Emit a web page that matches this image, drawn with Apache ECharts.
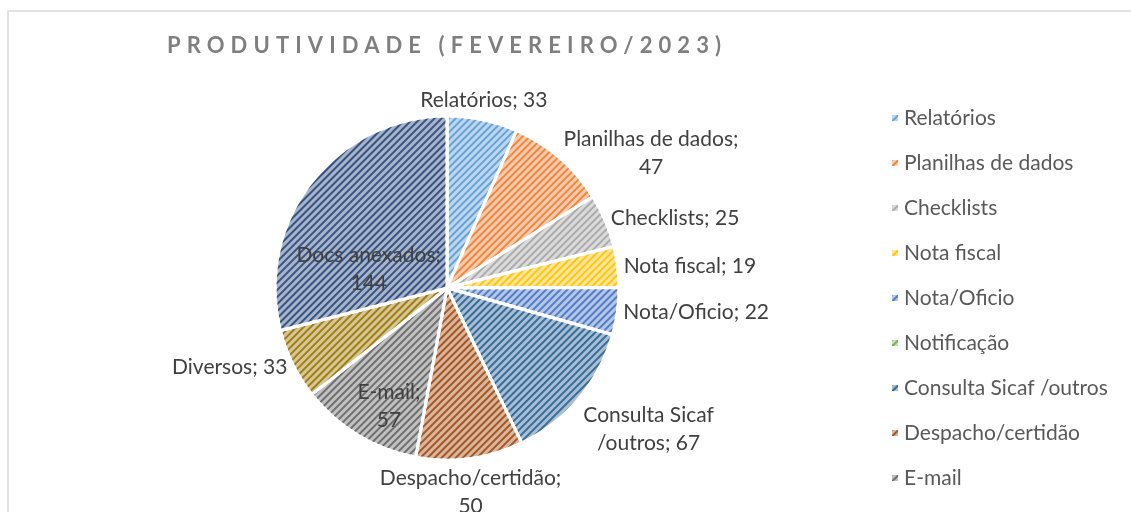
<!DOCTYPE html>
<html>
<head>
<meta charset="utf-8">
<script src="https://cdn.jsdelivr.net/npm/echarts@6/dist/echarts.min.js"></script>
<style>
  html, body { margin: 0; padding: 0; background: #fff; overflow: hidden; }
  #wrap { position: relative; width: 1131px; height: 512px; }
  #chart { position: absolute; left: 0; top: 0; width: 1131px; height: 512px; }
  #title {
    position: absolute; left: 167px; top: 34px;
    font-family: Lato, sans-serif; font-weight: bold; font-size: 22px;
    line-height: 22px; letter-spacing: 6.1px; color: #7f7f7f; white-space: nowrap;
  }
</style>
</head>
<body>
<div id="wrap">
  <div id="chart"></div>
  <div id="title">PRODUTIVIDADE (FEVEREIRO/2023)</div>
</div>
<script>
// dados
const categories = ['Relatórios', 'Planilhas de dados', 'Checklists', 'Nota fiscal', 'Nota/Oficio',
  'Notificação', 'Consulta Sicaf /outros', 'Despacho/certidão', 'E-mail', 'Diversos', 'Docs anexados']
const values = [33, 47, 25, 19, 22, 0, 67, 50, 57, 33, 144]
const colors = ['#5B9BD5', '#ED7D31', '#A5A5A5', '#FFC000', '#4472C4',
  '#70AD47', '#255E91', '#9E480E', '#636363', '#997300', '#264478']

// labels: quebra de linha e rotulos dentro da fatia
const breakBeforeValue = ['Planilhas de dados', 'Despacho/certidão', 'Docs anexados', 'E-mail']
const breakAtSlash = ['Consulta Sicaf /outros']
const insideShift = { 'Docs anexados': [-8, 36], 'E-mail': [-12, 42] }

const CENTER = [447, 288]
const RADIUS = 172
const total = values.reduce((a, b) => a + b, 0)

function tint(hex, t) {
  const n = parseInt(hex.slice(1), 16)
  const r = n >> 16, g = (n >> 8) & 255, b = n & 255
  const m = c => Math.round(c + (255 - c) * t)
  return 'rgb(' + m(r) + ',' + m(g) + ',' + m(b) + ')'
}
const clamp = v => Math.max(0, Math.min(1, v))

const chart = echarts.init(document.getElementById('chart'))

const seriesData = categories.map((name, i) => {
  const item = {
    name: name,
    value: values[i],
    itemStyle: {
      color: tint(colors[i], 0.6),
      decal: {
        symbol: 'rect',
        symbolSize: 1,
        color: tint(colors[i], 0.08),
        dashArrayX: [1, 0],
        dashArrayY: [1.6, 3],
        rotation: -Math.PI / 4
      }
    },
    label: {}
  }
  if (insideShift[name]) item.label.position = 'inside'
  if (values[i] === 0) item.label.show = false
  return item
})

chart.setOption({
  animation: false,
  graphic: [{
    type: 'rect',
    shape: { x: 8, y: 11, width: 1300, height: 700 },
    style: { fill: 'none', stroke: '#d9d9d9', lineWidth: 1.5 },
    silent: true
  }],
  legend: {
    orient: 'vertical',
    left: 885,
    top: 101,
    height: 2000,
    itemWidth: 8,
    itemHeight: 8,
    itemGap: 21,
    itemTextGap: 6,
    icon: 'rect',
    data: categories,
    textStyle: { fontFamily: 'Lato', fontSize: 21, lineHeight: 24, color: '#595959' }
  },
  series: [{
    type: 'pie',
    center: CENTER,
    radius: RADIUS,
    startAngle: 90,
    clockwise: true,
    avoidLabelOverlap: false,
    itemStyle: { borderColor: '#fff', borderWidth: 3 },
    label: {
      show: true,
      position: 'outside',
      formatter: function (p) {
        if (breakBeforeValue.indexOf(p.name) >= 0) return p.name + ';\n' + p.value
        if (breakAtSlash.indexOf(p.name) >= 0) return p.name.replace(' /', '\n/') + '; ' + p.value
        return p.name + '; ' + p.value
      },
      fontFamily: 'Lato',
      fontSize: 21,
      lineHeight: 28,
      color: '#404040',
      align: 'center'
    },
    labelLine: { show: false },
    labelLayout: function (params) {
      const i = params.dataIndex
      const name = categories[i]
      if (values[i] === 0) return
      if (insideShift[name]) return { dx: insideShift[name][0], dy: insideShift[name][1] }
      let before = 0
      for (let k = 0; k < i; k++) before += values[k]
      const mid = (before + values[i] / 2) / total * Math.PI * 2
      const dx = Math.sin(mid), dy = -Math.cos(mid)
      const ax = CENTER[0] + (RADIUS + 6) * dx
      const ay = CENTER[1] + (RADIUS + 6) * dy
      const w = params.labelRect.width, h = params.labelRect.height
      const ox = Math.sign(dx) * clamp((Math.abs(dx) - 0.25) * 3) * w / 2
      const oy = dy < 0
        ? -clamp((-dy - 0.85) * 8) * h / 2
        : clamp((dy - 0.45) * 5) * h / 2
      return { x: ax + ox, y: ay + oy, align: 'center', verticalAlign: 'middle' }
    },
    data: seriesData
  }]
})
</script>
</body>
</html>
